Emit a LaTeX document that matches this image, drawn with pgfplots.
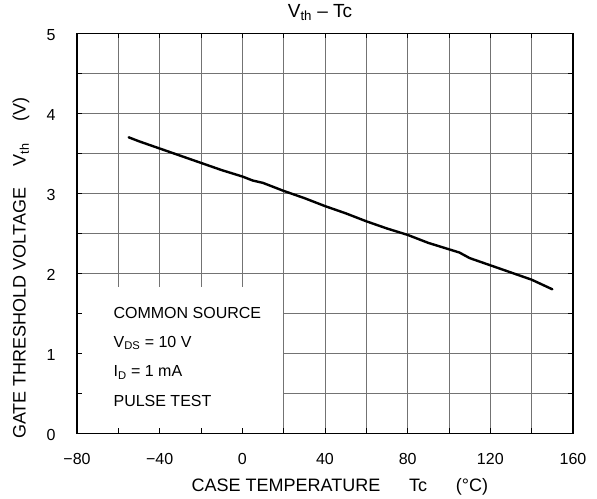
\documentclass[border=0pt]{standalone}
\usepackage{fontspec}
\setmainfont{Liberation Sans}
\usepackage{pgfplots}
\pgfplotsset{compat=1.18}
\begin{document}
\begin{tikzpicture}[x=1bp,y=1bp]
\begin{axis}[
  at={(0,0)}, anchor=south west,
  scale only axis,
  width=496bp, height=400bp,
  xmin=-80, xmax=160, ymin=0, ymax=5,
  xtick={-80,-60,...,160},
  xticklabels={−80,,−40,,0,,40,,80,,120,,160},
  ytick={0,0.5,...,5},
  yticklabels={0,,1,,2,,3,,4,,5},
  tick align=inside,
  major tick length=5bp,
  tick style={black, line width=0.8bp},
  grid=major,
  major grid style={black!55, line width=0.8bp},
  axis line style={black, line width=1.2bp},
  font=\fontsize{16bp}{19bp}\selectfont,
  xticklabel style={anchor=north, yshift=-17bp},
  yticklabel style={anchor=east, xshift=-18bp, yshift=-2bp},
  title={V\textsubscript{th} – Tc},
  title style={at={(axis description cs:0.49,1.037)}, anchor=center, font=\fontsize{19bp}{22bp}\selectfont},
  xlabel={CASE TEMPERATURE\hspace{1.6em}Tc\hspace{1.6em}(°C)},
  xlabel style={at={(axis description cs:0.53,-0.133)}, anchor=center, font=\fontsize{18bp}{21bp}\selectfont},
  ylabel={GATE THRESHOLD VOLTAGE\hspace{1.2em}V\textsubscript{th}\hspace{1.2em}(V)},
  ylabel style={at={(axis description cs:-0.113,0.413)}, anchor=center, font=\fontsize{18bp}{21bp}\selectfont},
  clip=false,
]
\fill[white] ([shift={(5bp,5bp)}]axis cs:-80,0) rectangle ([xshift=-0.5bp]axis cs:20,1.83);
\addplot[black, line width=2.4bp, line join=round, line cap=round] coordinates {
(-55,3.70) (-50,3.65) (-40,3.56) (-30,3.47) (-20,3.38) (-10,3.29) (0,3.21)
(5,3.16) (10,3.13) (20,3.03) (30,2.94) (40,2.84) (50,2.75) (60,2.65)
(70,2.56) (80,2.48) (90,2.38) (100,2.30) (105,2.26) (110,2.19) (120,2.10)
(130,2.01) (140,1.92) (150,1.80)
};
\node[anchor=west] at (axis cs:-64,1.50) {COMMON SOURCE};
\node[anchor=west] at (axis cs:-64,1.13) {V\textsubscript{DS} = 10 V};
\node[anchor=west] at (axis cs:-64,0.76) {I\textsubscript{D} = 1 mA};
\node[anchor=west] at (axis cs:-64,0.40) {PULSE TEST};
\end{axis}
\pgfresetboundingbox
\useasboundingbox (-77bp,-65.7bp) rectangle (520bp,433.3bp);
\end{tikzpicture}
\end{document}
